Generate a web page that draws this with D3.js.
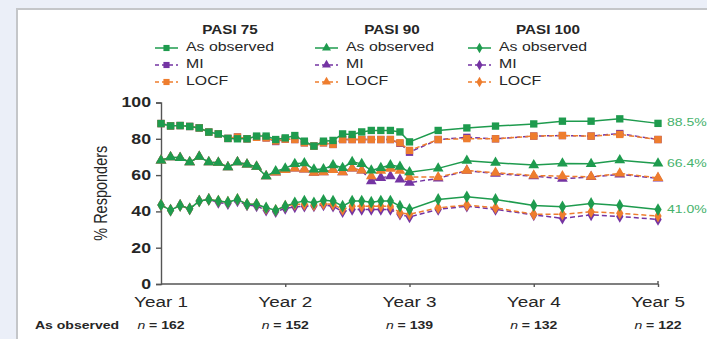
<!DOCTYPE html>
<html>
<head>
<meta charset="utf-8">
<script src="https://cdn.jsdelivr.net/npm/d3@7"></script>
<style>
  body { margin: 0; background: #ebeff8; }
  svg { display: block; }
</style>
</head>
<body>
<div id="chart"></div>
<script>
// weeks since start (Year 1 = week 52 ... Year 5 = week 260)
var weeks = [52, 56, 60, 64, 68, 72, 76, 80, 84, 88, 92, 96, 100, 104, 108, 112, 116, 120, 124, 128,
             132, 136, 140, 144, 148, 152, 156, 168, 180, 192, 208, 220, 232, 244, 260];

var yearTicks = [52, 104, 156, 208, 260];
var yearLabels = ["Year 1", "Year 2", "Year 3", "Year 4", "Year 5"];
var nLabels = ["162", "152", "139", "132", "122"];
var yTicks = [0, 20, 40, 60, 80, 100];

var pasi75Obs  = [88.4, 87.1, 87.3, 86.8, 86.0, 83.7, 82.7, 80.2, 80.0, 80.0, 81.5, 81.5, 79.6, 80.5, 81.8, 78.7, 76.0, 78.7, 79.1, 82.7,
                  82.4, 83.8, 84.6, 84.6, 84.6, 83.8, 78.3, 84.6, 86.0, 87.0, 88.2, 89.7, 89.7, 91.0, 88.5];
var pasi75MI   = [88.4, 87.1, 87.3, 86.8, 86.0, 83.7, 82.7, 80.2, 81.0, 80.0, 80.8, 80.5, 78.5, 79.8, 79.6, 77.8, 76.0, 77.8, 76.9, 79.6,
                  79.6, 79.6, 79.6, 79.6, 79.6, 77.5, 72.6, 79.6, 80.8, 80.0, 81.5, 81.8, 81.5, 82.9, 79.6];
var pasi75LOCF = [88.4, 87.1, 87.3, 86.8, 86.0, 83.7, 82.7, 80.2, 81.0, 80.0, 80.8, 80.5, 78.8, 79.8, 79.6, 77.8, 76.0, 77.8, 76.9, 79.6,
                  79.6, 79.6, 79.6, 79.6, 79.6, 77.8, 73.6, 79.6, 80.1, 80.0, 81.5, 81.8, 81.5, 82.4, 79.6];

var pasi90Obs  = [68.1, 69.9, 69.5, 67.1, 70.1, 67.1, 66.8, 64.4, 67.1, 65.9, 64.6, 59.4, 62.2, 63.7, 66.2, 66.6, 63.1, 63.3, 65.5, 64.0,
                  67.3, 66.2, 62.6, 64.0, 65.5, 64.6, 61.6, 63.7, 67.9, 66.8, 65.5, 66.4, 66.2, 68.2, 66.4];
var pasi90MI   = [68.1, 69.9, 69.5, 67.1, 70.1, 67.1, 66.8, 64.4, 67.1, 65.9, 64.6, 59.4, 61.5, 62.8, 63.7, 63.1, 61.3, 61.6, 62.9, 61.6,
                  63.7, 62.6, 56.7, 58.5, 59.4, 57.6, 55.8, 58.2, 62.5, 60.8, 59.4, 58.0, 59.0, 60.4, 58.2];
var pasi90LOCF = [68.1, 69.9, 69.5, 67.1, 70.1, 67.1, 66.8, 64.4, 67.1, 65.9, 64.6, 59.4, 61.5, 62.8, 63.7, 63.1, 61.3, 61.6, 62.9, 61.6,
                  63.7, 62.6, 59.4, 62.4, 63.5, 62.4, 58.9, 58.9, 62.5, 61.3, 59.8, 59.4, 59.1, 60.9, 58.5];

var pasi100Obs  = [43.5, 40.7, 43.3, 41.4, 45.7, 46.6, 45.7, 45.1, 46.6, 43.9, 43.9, 42.0, 40.6, 42.9, 44.7, 45.7, 44.7, 46.1, 45.7, 42.9,
                   45.7, 45.7, 45.1, 45.7, 45.7, 42.9, 41.1, 46.6, 48.1, 46.6, 43.3, 42.5, 44.4, 43.3, 41.0];
var pasi100MI   = [43.5, 40.7, 43.3, 41.4, 45.7, 46.6, 44.9, 44.2, 45.7, 43.5, 43.0, 40.6, 39.8, 41.7, 42.5, 42.9, 43.0, 43.5, 42.9, 39.8,
                   41.1, 41.1, 41.1, 41.1, 41.1, 38.4, 36.9, 41.1, 42.9, 41.1, 38.1, 36.2, 38.1, 37.2, 35.6];
var pasi100LOCF = [43.5, 40.7, 43.3, 41.4, 45.7, 46.6, 45.7, 45.1, 46.6, 43.9, 43.9, 41.6, 40.6, 42.9, 43.9, 43.9, 43.5, 44.2, 43.9, 41.1,
                   42.9, 42.9, 42.9, 42.9, 42.9, 39.2, 38.4, 42.0, 43.5, 42.0, 38.4, 38.4, 39.8, 39.0, 37.4];

var groups = ["PASI 75", "PASI 90", "PASI 100"];
var methods = ["As observed", "MI", "LOCF"];
var endLabels = ["88.5%", "66.4%", "41.0%"];

var green = "#1e9b4e", purple = "#7434a3", orange = "#ee7d2e", labelGreen = "#45b26b";
var ink = "#262626";
var sx = 1.22; // the picture is stretched sideways

var W = 707, H = 339;
var svg = d3.select("#chart").append("svg")
    .attr("width", W).attr("height", H)
    .style("font-family", "'Liberation Sans', Arial, sans-serif");

// frame
svg.append("rect").attr("width", W).attr("height", H).attr("fill", "#ebeff8");
svg.append("rect").attr("x", 17).attr("y", 9).attr("width", W).attr("height", H)
    .attr("fill", "#fff").attr("stroke", "#c4c6c9").attr("stroke-width", 2);

function txt(x, y, s, size, opts) {
  opts = opts || {};
  var t = svg.append("text")
      .attr("transform", "translate(" + x + "," + y + ") scale(" + sx + ",1)" + (opts.rotate ? " rotate(" + opts.rotate + ")" : ""))
      .attr("font-size", size)
      .attr("fill", opts.fill || ink)
      .attr("font-weight", opts.bold ? "bold" : "normal")
      .attr("text-anchor", opts.anchor || "start")
      .attr("dominant-baseline", "middle")
      .text(s);
  return t;
}

var x = d3.scaleLinear().domain([52, 260]).range([161, 658]);
var y = d3.scaleLinear().domain([0, 100]).range([284, 102.5]);

// axes
var yAxis = svg.append("g").attr("transform", "translate(161,0)")
    .call(d3.axisLeft(y).tickValues(yTicks).tickSize(5).tickFormat(""));
var xAxis = svg.append("g").attr("transform", "translate(0,284)")
    .call(d3.axisBottom(x).tickValues(yearTicks.slice(1)).tickSize(3).tickFormat(""));
[yAxis, xAxis].forEach(function(a) {
  a.selectAll("path, line").attr("stroke", "#555").attr("stroke-width", 1.4);
});
xAxis.select(".domain").attr("d", "M161,0H658V-3");

yTicks.forEach(function(v) {
  txt(151, y(v) + 1, String(v), 14.5, {anchor: "end", bold: true});
});
txt(102, y(50), "% Responders", 14.5, {anchor: "middle", rotate: -90});

yearTicks.forEach(function(w, i) {
  txt(x(w), 303, yearLabels[i], 15.5, {anchor: "middle"});
  var t = txt(x(w), 326, "", 11.5, {anchor: "middle", bold: true});
  t.append("tspan").attr("font-style", "italic").attr("font-weight", "normal").text("n");
  t.append("tspan").text(" = " + nLabels[i]);
});
txt(35, 326, "As observed", 11.5, {bold: true});

// series
var shapes = [d3.symbolSquare, d3.symbolTriangle, d3.symbolDiamond];
var sizes = [54, 50, 46];
var data = [
  [pasi75Obs, pasi75MI, pasi75LOCF],
  [pasi90Obs, pasi90MI, pasi90LOCF],
  [pasi100Obs, pasi100MI, pasi100LOCF]
];
var colors = [green, purple, orange];

var line = d3.line()
    .x(function(d, i) { return x(weeks[i]); })
    .y(function(d) { return y(d); });

// draw MI, then LOCF, then observed on top
[1, 2, 0].forEach(function(m) {
  data.forEach(function(g, gi) {
    var vals = g[m];
    svg.append("path")
        .datum(vals)
        .attr("fill", "none")
        .attr("stroke", colors[m])
        .attr("stroke-width", 1.5)
        .attr("stroke-dasharray", m === 0 ? null : "5,3")
        .attr("d", line);
    svg.append("g").selectAll("path")
        .data(vals).enter().append("path")
        .attr("transform", function(d, i) { return "translate(" + x(weeks[i]) + "," + y(d) + ")"; })
        .attr("d", d3.symbol().type(shapes[gi]).size(sizes[gi]))
        .attr("fill", colors[m]);
  });
});

// end labels
data.forEach(function(g, gi) {
  var last = g[0][g[0].length - 1];
  txt(667, y(last), endLabels[gi], 11.5, {fill: labelGreen});
});

// legend
var legX = [155, 315, 468];
var titleX = [230, 392, 548];
var rowY = [48, 65, 82];
groups.forEach(function(name, gi) {
  txt(titleX[gi], 31, name, 12.5, {anchor: "middle", bold: true});
  methods.forEach(function(meth, m) {
    svg.append("line")
        .attr("x1", legX[gi]).attr("x2", legX[gi] + 23)
        .attr("y1", rowY[m]).attr("y2", rowY[m])
        .attr("stroke", colors[m]).attr("stroke-width", 1.5)
        .attr("stroke-dasharray", m === 0 ? null : "4,3");
    svg.append("path")
        .attr("transform", "translate(" + (legX[gi] + 11.5) + "," + rowY[m] + ")")
        .attr("d", d3.symbol().type(shapes[gi]).size(sizes[gi] * 0.7))
        .attr("fill", colors[m]);
    txt(legX[gi] + 31, rowY[m], meth, 13);
  });
});
</script>
</body>
</html>
